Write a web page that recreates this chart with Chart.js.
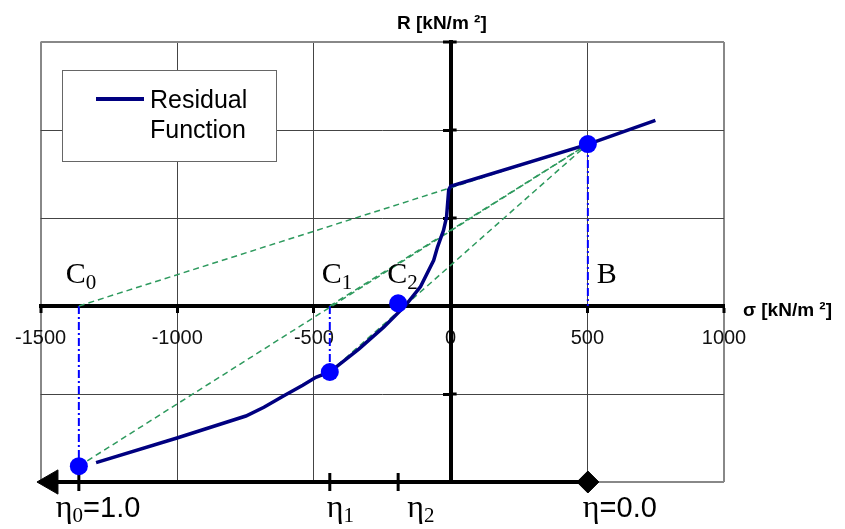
<!DOCTYPE html>
<html>
<head>
<meta charset="utf-8">
<script src="https://cdn.jsdelivr.net/npm/chart.js@4.4.0/dist/chart.umd.min.js"></script>
<style>
  html, body { margin: 0; padding: 0; background: #fff; }
  #wrap { width: 845px; height: 529px; position: relative; }
</style>
</head>
<body>
<div id="wrap"><canvas id="residualChart"></canvas></div>
<script>
// Residual function R(sigma)
const curveSigma = [-1297, -1001, -749, -683, -610, -541, -493, -442, -336, -245, -164, -110, -62, -48, -26, -15, -7, 0, 504, 749]
const curveR     = [-178, -150, -125, -115, -102, -90, -81, -75, -49, -24, 1, 22, 52, 67, 86, 101, 132, 136, 184, 211]

// marked points C0, C1, C2, B
const pointNames = ['C0', 'C1', 'C2', 'B']
const pointSigma = [-1360, -442, -192, 502]
const pointR     = [-182, -75, 3, 184]

// axis ticks (R axis has no labels)
const sigmaTicks = [-1500, -1000, -500, 0, 500, 1000]
const rTicks = [-200, -100, 0, 100, 200, 300]

// eta scale along the bottom edge
const etaSigma = [-1360, -442, -192, 502]
const etaNames = ['0', '1', '2', '']
const etaValues = ['1.0', '', '', '0.0']
const etaArrowSigma = -1462
const etaLevel = -200

const NAVY = '#000080'
const BLUE = '#0000ff'
const GREEN = '#2e9a5e'
const SANS = 'Arial, "Liberation Sans", sans-serif'
const SERIF = '"Times New Roman", "Liberation Serif", serif'

const B = 3 // index of point B

// construction lines from B to the C points (on the axis and on the curve)
const greenLines = [
  [{x: pointSigma[0], y: 0}, {x: pointSigma[B], y: pointR[B]}],
  [{x: pointSigma[0], y: pointR[0]}, {x: pointSigma[B], y: pointR[B]}],
  [{x: pointSigma[1], y: 0}, {x: pointSigma[B], y: pointR[B]}],
  [{x: pointSigma[1], y: pointR[1]}, {x: pointSigma[B], y: pointR[B]}]
]
// vertical projections
const blueLines = [
  [{x: pointSigma[0], y: 0}, {x: pointSigma[0], y: pointR[0]}],
  [{x: pointSigma[1], y: 0}, {x: pointSigma[1], y: pointR[1]}],
  [{x: pointSigma[B], y: pointR[B]}, {x: pointSigma[B], y: 0}]
]

const datasets = []

datasets.push({
  label: 'points',
  data: pointSigma.map((s, i) => ({x: s, y: pointR[i]})),
  showLine: false,
  pointRadius: 9,
  pointBackgroundColor: BLUE,
  pointBorderColor: BLUE,
  pointBorderWidth: 0,
  order: 0
})

datasets.push({
  label: 'Residual Function',
  data: curveSigma.map((s, i) => ({x: s, y: curveR[i]})),
  showLine: true,
  borderColor: NAVY,
  borderWidth: 3.5,
  pointRadius: 0,
  tension: 0,
  order: 1
})

greenLines.forEach(l => datasets.push({
  label: 'construction',
  data: l,
  showLine: true,
  borderColor: GREEN,
  borderWidth: 1.5,
  borderDash: [6, 4],
  pointRadius: 0,
  order: 2
}))

blueLines.forEach(l => datasets.push({
  label: 'projection',
  data: l,
  showLine: true,
  borderColor: BLUE,
  borderWidth: 2,
  borderDash: [8, 3, 2, 3],
  pointRadius: 0,
  order: 2
}))

// eta axis: arrow at the left, ticks at the eta values, diamond at eta = 0
const etaData = [{x: etaArrowSigma, y: etaLevel}].concat(etaSigma.map(s => ({x: s, y: etaLevel})))
datasets.push({
  label: 'eta',
  data: etaData,
  showLine: true,
  borderColor: '#000',
  borderWidth: 4,
  pointStyle: ['triangle', 'line', 'line', 'line', 'rectRot'],
  rotation: [270, 90, 90, 90, 0],
  pointRadius: [14, 9, 9, 9, 11],
  pointBorderWidth: [1, 3, 3, 3, 1],
  pointBackgroundColor: '#000',
  pointBorderColor: '#000',
  clip: false,
  order: 3
})

function drawSub(ctx, main, sub, x, y, mainFont, subFont, drop) {
  ctx.font = mainFont
  ctx.fillText(main, x, y)
  const w = ctx.measureText(main).width
  ctx.font = subFont
  ctx.fillText(sub, x + w, y + drop)
  return x + w + ctx.measureText(sub).width
}

const annotate = {
  id: 'annotate',
  afterDraw(chart) {
    const { ctx, scales: { x, y } } = chart
    ctx.save()
    ctx.fillStyle = '#000'
    ctx.textBaseline = 'alphabetic'
    ctx.textAlign = 'left'

    // axis titles
    ctx.font = 'bold 19px ' + SANS
    ctx.fillText('R [kN/m \u00b2]', 397, 29)
    ctx.fillText('\u03c3 [kN/m \u00b2]', 743, 316)

    // short ticks on the right side of the R axis
    const x0 = x.getPixelForValue(0)
    ctx.strokeStyle = '#000'
    ctx.lineWidth = 3
    rTicks.forEach(v => {
      const py = y.getPixelForValue(v)
      ctx.beginPath()
      ctx.moveTo(x0, py)
      ctx.lineTo(x0 + 6, py)
      ctx.stroke()
    })

    // point labels
    const yAxis = y.getPixelForValue(0)
    const offs = [-13, -8, -11, 9]
    pointNames.forEach((n, i) => {
      const px = x.getPixelForValue(pointSigma[i]) + offs[i]
      drawSub(ctx, n[0], n.slice(1), px, yAxis - 23, '30px ' + SERIF, '21px ' + SERIF, 6)
    })

    // eta labels
    const etaBase = y.getPixelForValue(etaLevel) + 35
    const etaOffs = [-23, -3, 9, -5]
    etaSigma.forEach((s, i) => {
      const px = x.getPixelForValue(s) + etaOffs[i]
      let end = drawSub(ctx, '\u03b7', etaNames[i], px, etaBase, '32px ' + SERIF, '21px ' + SERIF, 5)
      if (etaValues[i]) {
        ctx.font = '29px ' + SANS
        ctx.fillText('=' + etaValues[i], end, etaBase)
      }
    })

    // legend box
    const lx = 62, ly = 70, lw = 214, lh = 91
    ctx.fillStyle = '#fff'
    ctx.fillRect(lx, ly, lw, lh)
    ctx.strokeStyle = '#666'
    ctx.lineWidth = 1
    ctx.strokeRect(lx + 0.5, ly + 0.5, lw, lh)
    ctx.strokeStyle = NAVY
    ctx.lineWidth = 4
    ctx.beginPath()
    ctx.moveTo(96, 99)
    ctx.lineTo(144, 99)
    ctx.stroke()
    ctx.fillStyle = '#000'
    ctx.font = '25px ' + SANS
    const words = chart.data.datasets[1].label.split(' ')
    ctx.fillText(words[0], 150, 108)
    ctx.fillText(words[1], 150, 138)
    ctx.restore()
  }
}

const edge = (v, lo, hi) => v === lo || v === hi

const ctx = document.getElementById('residualChart').getContext('2d')
const residualChart = new Chart(ctx, {
  type: 'scatter',
  data: { datasets: datasets },
  options: {
    responsive: true,
    maintainAspectRatio: false,
    animation: false,
    layout: { padding: { left: 40, top: 42, right: 121, bottom: 47 } },
    plugins: {
      legend: { display: false },
      tooltip: { enabled: false }
    },
    scales: {
      x: {
        type: 'linear',
        position: { y: 0 },
        min: -1500,
        max: 1000,
        afterBuildTicks: scale => { scale.ticks = sigmaTicks.map(v => ({ value: v })) },
        ticks: {
          autoSkip: false,
          maxRotation: 0,
          color: '#111',
          padding: 15,
          font: { family: SANS, size: 20 },
          callback: v => String(v)
        },
        grid: {
          color: c => edge(c.tick.value, -1500, 1000) ? '#888' : '#444',
          lineWidth: c => edge(c.tick.value, -1500, 1000) ? 2 : 1,
          tickColor: '#000',
          tickLength: 5,
          tickWidth: 3
        },
        border: { color: '#000', width: 4 }
      },
      y: {
        type: 'linear',
        position: { x: 0 },
        min: -200,
        max: 300,
        afterBuildTicks: scale => { scale.ticks = rTicks.map(v => ({ value: v })) },
        ticks: { display: false },
        grid: {
          color: c => edge(c.tick.value, -200, 300) ? '#888' : '#444',
          lineWidth: c => edge(c.tick.value, -200, 300) ? 2 : 1,
          tickColor: '#000',
          tickLength: 6,
          tickWidth: 3
        },
        border: { color: '#000', width: 4 }
      }
    }
  },
  plugins: [annotate]
})
</script>
</body>
</html>
